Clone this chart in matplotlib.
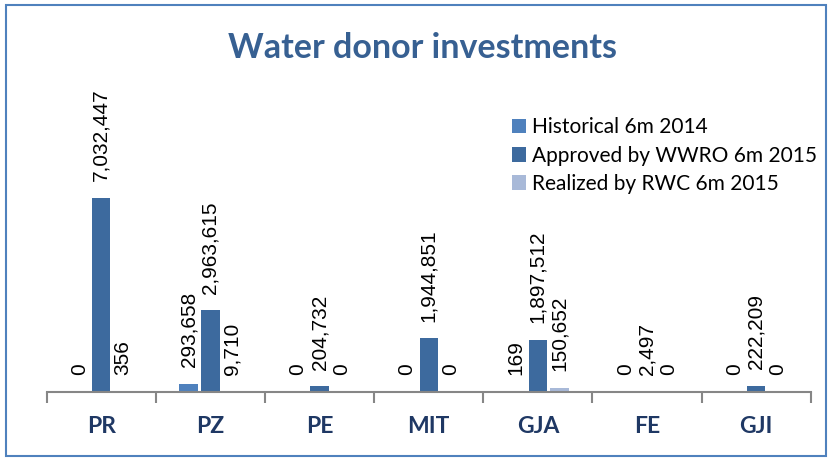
import numpy as np
import matplotlib.pyplot as plt
from matplotlib.patches import Rectangle

categories = ["PR", "PZ", "PE", "MIT", "GJA", "FE", "GJI"]
historical = [0, 293658, 0, 0, 169, 0, 0]
approved = [7032447, 2963615, 204732, 1944851, 1897512, 2497, 222209]
realized = [356, 9710, 0, 0, 150652, 0, 0]
series_names = ["Historical 6m 2014", "Approved by WWRO 6m 2015", "Realized by RWC 6m 2015"]
colors = ["#4F81BD", "#3D6A9E", "#A8B9D8"]

fig = plt.figure(figsize=(8.29, 4.58), dpi=100)
fig.patches.append(Rectangle((0.007, 0.004), 0.989, 0.985, transform=fig.transFigure,
                             fill=False, edgecolor="#4F81BD", linewidth=1.5))

ax = fig.add_axes([0.0563, 0.144, 0.9216, 0.725])
x = np.arange(len(categories))
w = 0.168
step = 0.2
for i, (vals, name, c) in enumerate(zip([historical, approved, realized], series_names, colors)):
    pos = x + (i - 1) * step
    ax.bar(pos, vals, width=w, color=c, label=name)
    for px, v in zip(pos, vals):
        ax.annotate(f"{v:,}", (px, v), xytext=(0, 12), textcoords="offset points",
                    rotation=90, ha="center", va="bottom", fontsize=15,
                    family="Liberation Sans")

ax.set_xlim(-0.5, len(categories) - 0.5)
ax.set_ylim(0, 12.03e6)
for s in ["top", "right", "left"]:
    ax.spines[s].set_visible(False)
ax.spines["bottom"].set_color("#868686")
ax.spines["bottom"].set_linewidth(1.5)
ax.set_yticks([])
ax.set_xticks(x)
ax.set_xticklabels(categories, fontsize=16.5, fontweight="bold", color="#1F3864", family="Lato")
ax.tick_params(axis="x", which="major", length=0, pad=17)
ax.set_xticks(np.arange(-0.5, len(categories)), minor=True)
ax.tick_params(axis="x", which="minor", length=8, width=1.5, color="#868686")

fig.text(0.51, 0.895, "Water donor investments", ha="center", va="center",
         fontsize=24.5, fontweight="bold", color="#376092", family="Lato")

fig.legend(loc="upper left", bbox_to_anchor=(0.607, 0.762), frameon=False,
           prop={"family": "Lato", "size": 15}, handlelength=0.7, handleheight=0.7,
           handletextpad=0.3, labelspacing=0.4, borderaxespad=0)

fig.savefig("out.png", dpi=100)
